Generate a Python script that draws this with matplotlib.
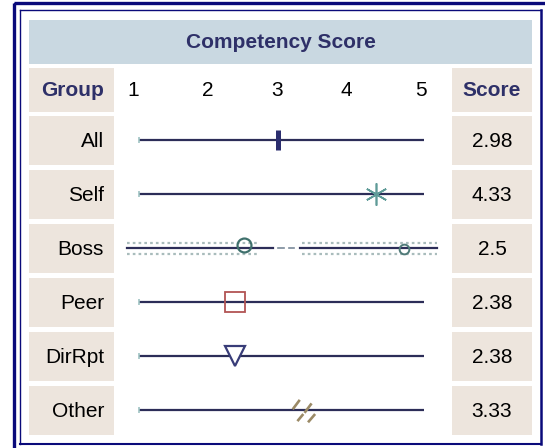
import numpy as np
import matplotlib
matplotlib.use("Agg")
import matplotlib.pyplot as plt
from matplotlib.patches import Rectangle
from matplotlib.path import Path
from matplotlib import transforms

# ── DATA ─────────────────────────────────────────────
groups = ["All", "Self", "Boss", "Peer", "DirRpt", "Other"]
scores = [2.98, 4.33, 2.5, 2.38, 2.38, 3.33]
ticks = [1, 2, 3, 4, 5]
tick_pos = [0.965, 2.0, 2.96, 3.915, 4.955]   # where the scale numbers sit
title = "Competency Score"

# ── STYLE ───────────────────────────────────────────
plt.rcParams["font.family"] = ["Liberation Sans", "DejaVu Sans"]
navy_txt = "#2e3068"
border = "#0a0a7a"
band = "#c9d8e1"
beige = "#ede5dd"
line_col = "#2c2d58"
fs = 15

W, H = 545, 448
fig = plt.figure(figsize=(W / 100, H / 100), dpi=100)

# page axes in pixel coordinates for the table frame
page = fig.add_axes([0, 0, 1, 1])
page.set_xlim(0, W)
page.set_ylim(H, 0)
page.axis("off")

# outer double border
page.add_patch(Rectangle((13.5, 3.5), 540, 450, fill=False, ec=border, lw=2.4))
page.plot([19.5, 540.5], [10.5, 10.5], color=border, lw=1.0)
page.plot([19.5, 19.5], [10.5, 444], color=border, lw=1.0)
page.plot([19.5, 541], [444, 444], color=border, lw=1.5)
page.plot([540.5, 540.5], [10.5, 444], color=border, lw=1.8)

# header band
page.add_patch(Rectangle((29, 20), 503, 44, color=band, lw=0))
page.text(280.5, 42.5, title, ha="center", va="center", fontsize=fs,
          fontweight="bold", color=navy_txt)

# column header cells
page.add_patch(Rectangle((29, 68), 85, 44, color=beige, lw=0))
page.add_patch(Rectangle((452, 68), 80, 44, color=beige, lw=0))
page.text(104, 91, "Group", ha="right", va="center", fontsize=fs,
          fontweight="bold", color=navy_txt)
page.text(492, 91, "Score", ha="center", va="center", fontsize=fs,
          fontweight="bold", color=navy_txt)

# row cells
row_top = 116
pitch = 54
cell_h = 49
for i, (g, s) in enumerate(zip(groups, scores)):
    y0 = row_top + i * pitch
    page.add_patch(Rectangle((29, y0), 85, cell_h, color=beige, lw=0))
    page.add_patch(Rectangle((452, y0), 80, cell_h, color=beige, lw=0))
    yc = y0 + cell_h / 2 + 1
    page.text(104, yc, g, ha="right", va="center", fontsize=fs, color="black")
    page.text(492, yc, f"{s:g}", ha="center", va="center", fontsize=fs, color="black")

# ── DOT PLOT AXES ───────────────────────────────────
px_per_unit = 72.2
x_left_px = 135.5 - 0.5 * px_per_unit
top_px = row_top - 3
bot_px = top_px + pitch * len(groups)
ax = fig.add_axes([x_left_px / W, (H - bot_px) / H,
                   5 * px_per_unit / W, (bot_px - top_px) / H])
ax.set_xlim(0.5, 5.5)
ax.set_ylim(len(groups) - 0.5, -0.5)
ax.axis("off")
ax.patch.set_alpha(0)

# scale numbers in header row
blend = transforms.blended_transform_factory(ax.transData, page.transData)
for t, p in zip(ticks, tick_pos):
    ax.text(p, 91, str(t), transform=blend, ha="center", va="center",
            fontsize=fs, color="black")

ypos = np.arange(len(groups))
for i in ypos:
    if groups[i] == "Boss":
        continue
    ax.plot([1.05, 5.0], [i, i], color=line_col, lw=1.6, solid_capstyle="butt", zorder=2)
    ax.plot([1.05], [i], marker="|", ms=4, mew=1.2, color="#9fc4c4", zorder=3)

# Boss row: scrambled rendering
bi = groups.index("Boss")
ax.plot([0.88, 2.9], [bi, bi], color=line_col, lw=1.6, zorder=2)
ax.plot([3.28, 5.18], [bi, bi], color=line_col, lw=1.6, zorder=2)
ax.plot([2.97, 3.06], [bi, bi], color="#7a8a9a", lw=1.2, zorder=2)
ax.plot([3.13, 3.2], [bi, bi], color="#7a8a9a", lw=1.2, zorder=2)
for dy in (-0.1, 0.12):
    ax.plot([0.88, 2.7], [bi + dy, bi + dy], color="#a9bcbc", lw=1.6,
            ls=(0, (1.2, 1.4)), zorder=1)
    ax.plot([3.3, 5.18], [bi + dy, bi + dy], color="#a9bcbc", lw=1.6,
            ls=(0, (1.2, 1.4)), zorder=1)
ax.plot([scores[bi]], [bi - 0.06], marker="o", ms=10, mfc="none", mec="#3f706c",
        mew=1.6, zorder=4)
ax.plot([4.72], [bi + 0.02], marker="o", ms=7, mfc="none", mec="#4f7a78",
        mew=1.4, zorder=4)

# other markers
ax.plot([scores[0]], [0], marker="|", ms=15, mew=3.6, color="#2b2d6e", zorder=4)
ax.plot([scores[1]], [1], marker=(6, 2, 0), ms=16, mew=1.2, color="#5f9b98", zorder=4)
ax.plot([scores[3]], [3], marker="s", ms=14, mfc="none", mec="#b25454", mew=1.3, zorder=4)
ax.plot([scores[4]], [4], marker="v", ms=15, mfc="white", mec="#383c78", mew=1.6, zorder=4)

slash = Path([(-1.0, 0.1), (-0.4, 0.9), (0.0, -0.2), (0.6, 0.6),
              (-0.6, -0.9), (-0.1, -0.3), (0.3, -1.0), (0.9, -0.3)],
             [Path.MOVETO, Path.LINETO, Path.MOVETO, Path.LINETO,
              Path.MOVETO, Path.LINETO, Path.MOVETO, Path.LINETO])
ax.plot([scores[5]], [5], marker=slash, ms=17, mew=1.9, color="#9b8a66",
        mfc="none", zorder=4)

fig.savefig("out.png", dpi=100)
